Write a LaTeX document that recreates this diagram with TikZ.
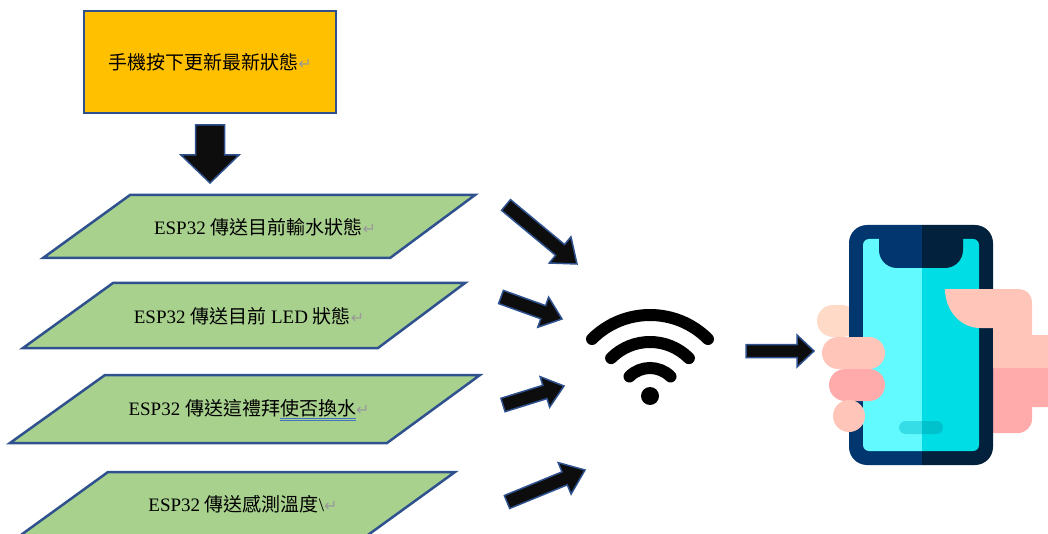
\documentclass[tikz,border=0pt]{standalone}
\usepackage{fontspec}
\setmainfont{Liberation Serif}
\newfontfamily\cjk{Noto Sans CJK TC}
\newfontfamily\markfont{DejaVu Sans}
\usetikzlibrary{calc}
\definecolor{boxblue}{HTML}{2F528F}
\definecolor{pressorange}{HTML}{FFC000}
\definecolor{sendgreen}{HTML}{A9D18E}
\definecolor{arrowblack}{HTML}{0D0D0D}
\definecolor{markgray}{HTML}{9A9A9A}
\definecolor{checkblue}{HTML}{4472C4}
\definecolor{phoneblue}{HTML}{01366E}
\definecolor{phonenavy}{HTML}{02213D}
\definecolor{screenlight}{HTML}{62FAFF}
\definecolor{screendark}{HTML}{00DDE5}
\definecolor{barlight}{HTML}{36DDE6}
\definecolor{bardark}{HTML}{00C2CC}
\definecolor{pinklight}{HTML}{FFC5B9}
\definecolor{pinkdark}{HTML}{FFABAB}
\definecolor{peach}{HTML}{FFDBC7}

\newcommand{\retmark}{{\markfont\fontsize{16}{16}\selectfont\color{markgray}↵}}
\newlength{\markwidth}
\newcommand{\checkline}[1]{\settowidth{\markwidth}{#1}%
  \rlap{\color{checkblue}\rule[-2.5pt]{\markwidth}{0.6pt}\hspace{-\markwidth}\rule[-4.5pt]{\markwidth}{0.6pt}}#1}

\makeatletter
% block arrow from #1 to #2: shaft half width #3, head half width #4, head length #5
\newcommand{\blockarrow}[5]{%
  \pgfmathanglebetweenpoints{\pgfpointanchor{#1}{center}}{\pgfpointanchor{#2}{center}}%
  \edef\ba@angle{\pgfmathresult}%
  \pgfpointdiff{\pgfpointanchor{#1}{center}}{\pgfpointanchor{#2}{center}}%
  \pgfgetlastxy{\ba@dx}{\ba@dy}%
  \pgfmathveclen{\ba@dx}{\ba@dy}%
  \edef\ba@len{\pgfmathresult}%
  \begin{scope}[shift={(#1)}, rotate=\ba@angle]
    \filldraw[arrowbody] (0,-#3) -- ({\ba@len-#5},-#3) -- ({\ba@len-#5},-#4) -- (\ba@len,0)
      -- ({\ba@len-#5},#4) -- ({\ba@len-#5},#3) -- (0,#3) -- cycle;
  \end{scope}}
\makeatother

\begin{document}
\begin{tikzpicture}[
  x=1pt, y=-1pt,
  startbox/.style={rectangle, draw=boxblue, fill=pressorange, line width=2.5pt, minimum width=252pt, minimum height=102pt, font=\fontsize{19}{22}\selectfont},
  sendbox/.style={draw=boxblue, fill=sendgreen, line width=2.5pt},
  sendtext/.style={inner sep=0pt, font=\fontsize{19}{22}\selectfont},
  arrowbody/.style={draw=boxblue, fill=arrowblack, line width=1.5pt, line join=miter},
  wave/.style={line width=12pt, line cap=round}
]
  \useasboundingbox (0,0) rectangle (1048,534);
  \clip (0,0) rectangle (1048,534);

  \node[startbox] (press) at (210,62) {{\cjk 手機按下更新最新狀態}\retmark};

  \path[sendbox] (130,195) -- (475,195) -- (390,258) -- (43,258) -- cycle;
  \path[sendbox] (113,283) -- (465,283) -- (378,348) -- (23,348) -- cycle;
  \path[sendbox] (105,375) -- (480,375) -- (387,443) -- (10,443) -- cycle;
  \path[sendbox] (108,472) -- (455,472) -- (361,540) -- (14,540) -- cycle;
  \node[sendtext] (water) at (265,227) {ESP32 {\cjk 傳送目前輸水狀態}\retmark};
  \node[sendtext] (led) at (249,316) {ESP32 {\cjk 傳送目前} LED {\cjk 狀態}\retmark};
  \node[sendtext] (swap) at (249,410) {ESP32 {\cjk 傳送這禮拜}\checkline{{\cjk 使否換水}}\retmark};
  \node[sendtext] (temp) at (243,504) {ESP32 {\cjk 傳送感測溫度}\textbackslash\retmark};

  \coordinate (downtail) at (210,125);
  \coordinate (downtip) at (210,183);
  \blockarrow{downtail}{downtip}{14.5}{29}{28}

  \coordinate (wifi) at (650,397);
  \coordinate (t1) at (506,205); \coordinate (h1) at (577,264);
  \coordinate (t2) at (501,297); \coordinate (h2) at (562,319);
  \coordinate (t3) at (503,405); \coordinate (h3) at (564,386);
  \coordinate (t4) at (507,502); \coordinate (h4) at (585,470);
  \blockarrow{t1}{h1}{7}{17}{22}
  \blockarrow{t2}{h2}{7}{16}{20}
  \blockarrow{t3}{h3}{7}{16}{20}
  \blockarrow{t4}{h4}{7}{17}{22}

  \draw[wave] (wifi) ++(225:82) arc[start angle=225, end angle=315, radius=82];
  \draw[wave] (wifi) ++(225:55) arc[start angle=225, end angle=315, radius=55];
  \draw[wave] (wifi) ++(225:29) arc[start angle=225, end angle=315, radius=29];
  \fill (650,396) circle[radius=9];

  \coordinate (phonetail) at (746,351);
  \coordinate (phonetip) at (814,351);
  \blockarrow{phonetail}{phonetip}{6.5}{16}{17}

  % hand behind the phone
  \fill[peach, rounded corners=16pt] (817,305) rectangle (858,337);
  \fill[pinkdark] (985,368) -- (1048,368) -- (1048,407) -- (1032,407) -- (1032,419)
    arc[start angle=0, end angle=90, radius=14] -- (985,433) -- cycle;

  % phone, left and right halves
  \foreach \xa/\xb/\bodycol/\screencol/\barcol in {840/922/phoneblue/screenlight/barlight, 922/1000/phonenavy/screendark/bardark} {
    \begin{scope}
      \clip (\xa,215) rectangle (\xb,475);
      \fill[\bodycol, rounded corners=18pt] (849,225) rectangle (993,465);
      \fill[\screencol, rounded corners=6pt] (863,239) rectangle (979,451);
      \fill[\bodycol, rounded corners=18pt] (879,236) -- (879,268) -- (963,268) -- (963,236);
      \fill[\barcol, rounded corners=6.5pt] (899,421) rectangle (943,434);
    \end{scope}
  }

  % thumb and fingers in front
  \fill[pinklight] (945,289) -- (1019,289) arc[start angle=270, end angle=360, radius=13]
    -- (1032,335) -- (1048,335) -- (1048,368) -- (993,368) -- (993,328) -- (980,328)
    arc[start angle=90, end angle=180, x radius=35, y radius=39] -- cycle;
  \fill[pinklight, rounded corners=16pt] (822,337) rectangle (885,369);
  \fill[pinkdark, rounded corners=16pt] (829,369) rectangle (885,401);
  \fill[pinklight] (849,416) circle[radius=16];
\end{tikzpicture}
\end{document}
